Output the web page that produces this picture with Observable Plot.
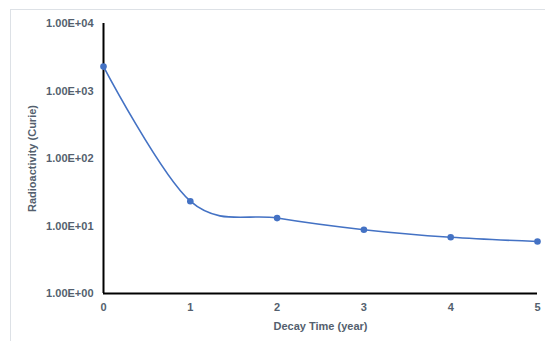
<!DOCTYPE html>
<html>
<head>
<meta charset="utf-8">
<script src="https://cdn.jsdelivr.net/npm/d3@7"></script>
<script src="https://cdn.jsdelivr.net/npm/@observablehq/plot@0.6"></script>
<style>
  html, body { margin: 0; padding: 0; background: #fff; }
  #wrap { position: relative; width: 545px; height: 341px; overflow: hidden; }
  #frame { position: absolute; left: 10px; top: 9px; width: 560px; height: 360px; border: 1px solid #dde1e6; box-sizing: border-box; }
  #chart { position: absolute; left: 0; top: 0; }
</style>
</head>
<body>
<div id="wrap"><div id="frame"></div><div id="chart"></div></div>
<script>
const years = [0, 1, 2, 3, 4, 5];
const activity = [2300, 23.3, 13.1, 8.8, 6.8, 5.9];
const yTicks = [1, 10, 100, 1000, 10000];
const xTicks = [0, 1, 2, 3, 4, 5];

const data = years.map((t, i) => ({t, v: activity[i]}));
const fmt = v => {
  const e = Math.round(Math.log10(v));
  return "1.00E" + (e >= 0 ? "+" : "-") + String(Math.abs(e)).padStart(2, "0");
};
const textColor = "#545f6e";

const chart = Plot.plot({
  width: 545,
  height: 341,
  marginLeft: 103,
  marginRight: 8,
  marginTop: 23,
  marginBottom: 48,
  style: {fontFamily: "Liberation Sans, Arial, sans-serif", fontSize: "11px", fontWeight: "bold", color: textColor, background: "transparent"},
  x: {domain: [0, 5]},
  y: {type: "log", domain: [1, 10000]},
  marks: [
    Plot.axisY({ticks: yTicks, tickFormat: fmt, tickSize: 0, tickPadding: 10, label: "Radioactivity (Curie)", labelAnchor: "center", labelArrow: "none", labelOffset: 75, fill: textColor}),
    Plot.axisX({ticks: xTicks, tickFormat: d => String(d), tickSize: 0, tickPadding: 10, label: "Decay Time (year)", labelAnchor: "center", labelArrow: "none", labelOffset: 36, fill: textColor}),
    Plot.ruleX([0], {stroke: "#000", strokeWidth: 2}),
    Plot.ruleY([1], {stroke: "#000", strokeWidth: 2}),
    Plot.line(data, {x: "t", y: "v", curve: "cardinal", tension: 0, stroke: "#4472c4", strokeWidth: 1.6}),
    Plot.dot(data, {x: "t", y: "v", r: 3.3, fill: "#4472c4", stroke: "none"})
  ]
});
document.getElementById("chart").appendChild(chart);
</script>
</body>
</html>
